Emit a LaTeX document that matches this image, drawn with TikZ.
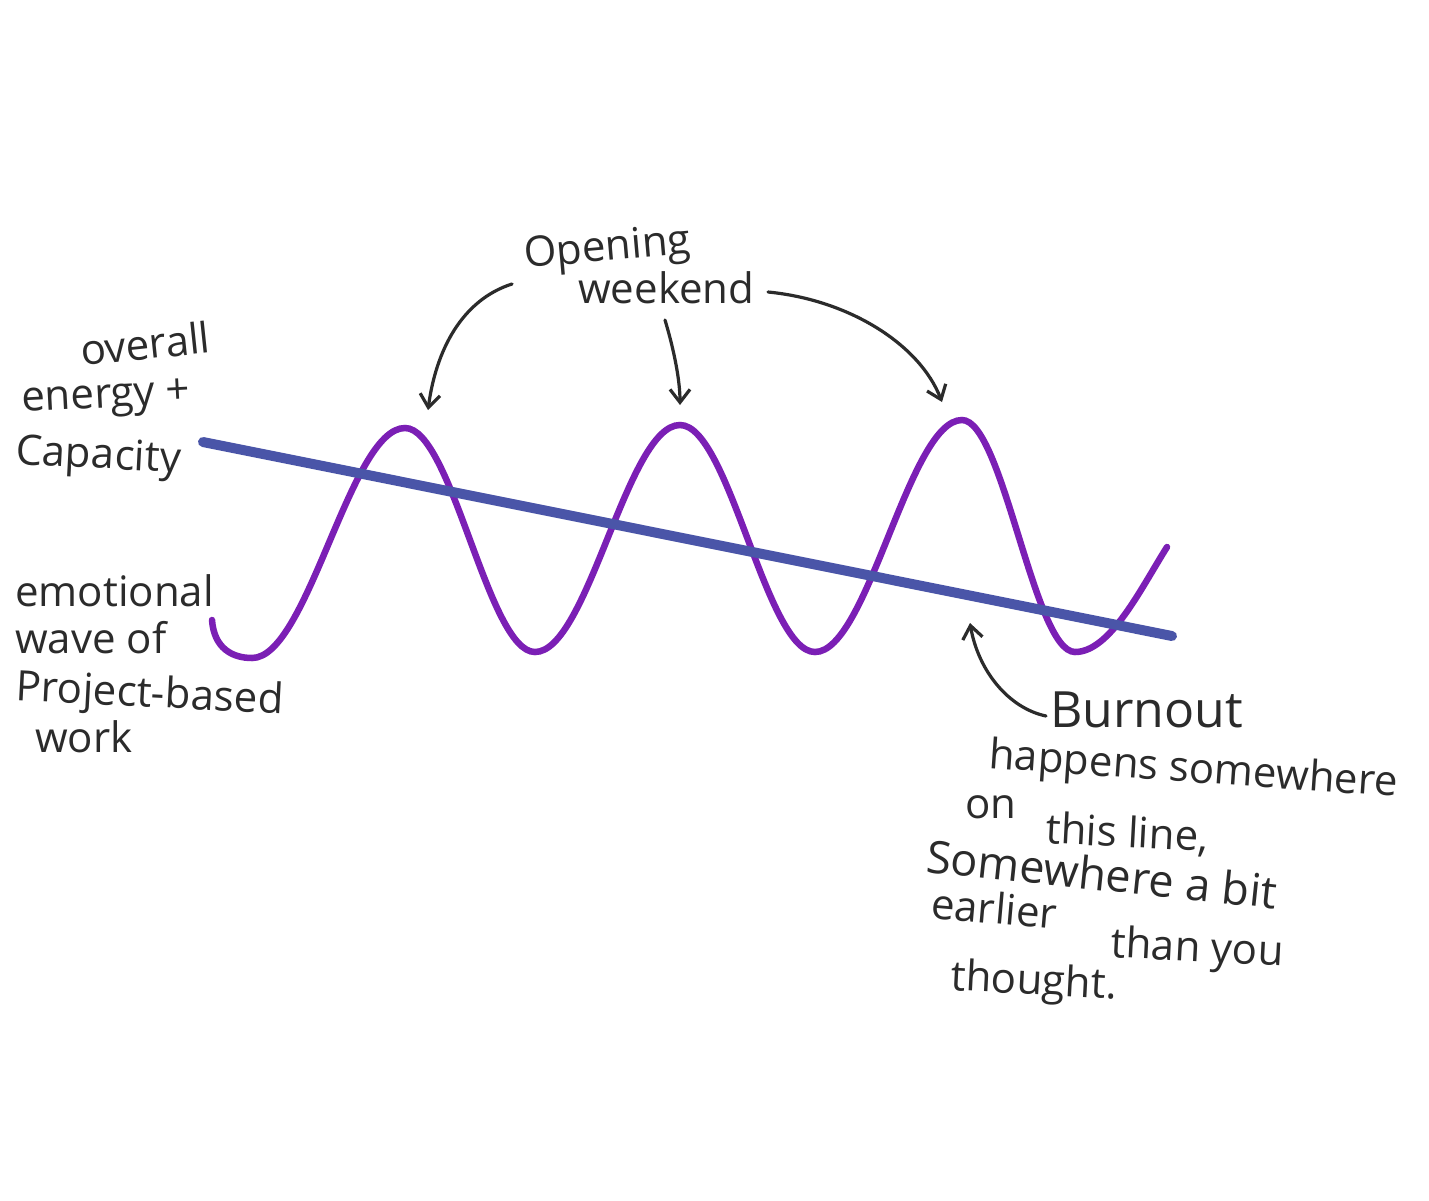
\documentclass[tikz,border=0pt]{standalone}
\usepackage{fontspec}
\setmainfont{Open Sans}
\usetikzlibrary{arrows.meta}
\definecolor{ink}{HTML}{2B2B2B}
\definecolor{wavec}{HTML}{7B1FB5}
\definecolor{energyc}{HTML}{4A55A8}
\begin{document}
\begin{tikzpicture}[x=1pt,y=-1pt,
  hand/.style={text=ink, inner sep=0pt, anchor=base west, font=\fontsize{42}{48}\selectfont},
  big/.style={font=\fontsize{50}{56}\selectfont},
  arr/.style={draw=ink, line width=3.2pt, line cap=round,
    -{Straight Barb[length=13pt,width=20pt,line width=3.2pt]}},
  wavepath/.style={draw=wavec, line width=6.5pt, line cap=round},
  energypath/.style={draw=energyc, line width=10pt, line cap=round}]
\useasboundingbox (0,0) rectangle (1429,1200);
\fill[white] (0,0) rectangle (1429,1200);

% emotional wave
\draw[wavepath] (212,620) .. controls (214,648) and (232,658) .. (252,658)
  .. controls (308,658) and (350,428) .. (405,428)
  .. controls (452,428) and (488,652) .. (535,652)
  .. controls (588,652) and (627,425) .. (680,425)
  .. controls (729,425) and (766,652) .. (815,652)
  .. controls (868,652) and (909,420) .. (962,420)
  .. controls (1003,420) and (1034,652) .. (1075,652)
  .. controls (1110,652) and (1140,590) .. (1167,547);

% energy line
\coordinate (eL) at (203,442);
\coordinate (eR) at (1172,636);
\draw[energypath] (eL) -- (eR);

% labels left
\node[hand, rotate=6] (ov) at (82,366) {overall};
\node[hand, rotate=3] (en) at (22,412) {energy +};
\node[hand, rotate=-3] (ca) at (15,464) {Capacity};
\node[hand] (em) at (15,606) {emotional};
\node[hand] (wa) at (15,653) {wave of};
\node[hand, rotate=-3] (pr) at (15,700) {Project-based};
\node[hand] (wo) at (35,752) {work};

% opening weekend
\node[hand, rotate=5] (op) at (525,268) {Opening};
\node[hand] (we) at (578,303) {weekend};
\coordinate (s1) at (512,284);
\coordinate (p1) at (428,410);
\coordinate (s2) at (665,320);
\coordinate (p2) at (680,405);
\coordinate (s3) at (768,292);
\coordinate (p3) at (942,402);
\draw[arr] (s1) .. controls (462,300) and (436,350) .. (p1);
\draw[arr] (s2) .. controls (674,350) and (680,380) .. (p2);
\draw[arr] (s3) .. controls (850,300) and (920,345) .. (p3);

% burnout
\node[hand, big] (bu) at (1050,727) {Burnout};
\node[hand, rotate=-4] (ha) at (988,768) {happens somewhere};
\node[hand] (on) at (965,818) {on};
\node[hand, rotate=-3] (th) at (1045,843) {this line,};
\node[hand, rotate=-6, font=\fontsize{45}{50}\selectfont] (so) at (925,872) {Somewhere a bit};
\node[hand, rotate=-5] (ea) at (930,918) {earlier};
\node[hand, rotate=-3] (tn) at (1110,957) {than you};
\node[hand, rotate=-3] (tg) at (950,990) {thought.};
\coordinate (s4) at (1046,716);
\coordinate (p4) at (970,623);
\draw[arr] (s4) .. controls (1008,708) and (978,670) .. (p4);
\end{tikzpicture}
\end{document}
